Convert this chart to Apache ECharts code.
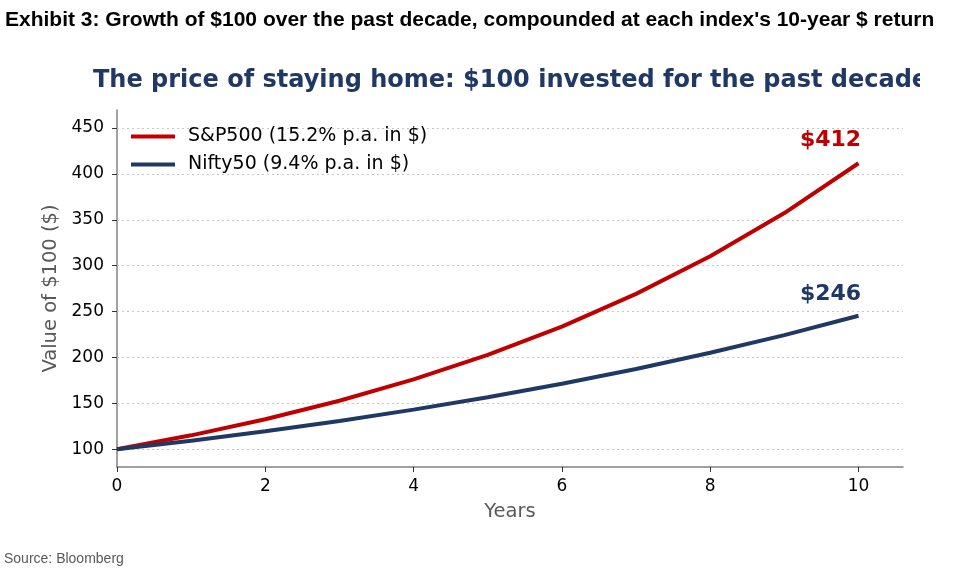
<!DOCTYPE html>
<html>
<head>
<meta charset="utf-8">
<script src="https://cdn.jsdelivr.net/npm/echarts@6/dist/echarts.min.js"></script>
<style>
  html, body { margin: 0; padding: 0; background: #fff; }
  #chart { width: 973px; height: 574px; }
</style>
</head>
<body>
<div id="chart"></div>
<script>
// years since start
const years = [0, 1, 2, 3, 4, 5, 6, 7, 8, 9, 10];
// value of $100
const sp500 = [100, 115.2, 132.7, 152.9, 176.1, 202.9, 233.7, 269.3, 310.2, 357.3, 411.6];
const nifty50 = [100, 109.4, 119.7, 130.9, 143.2, 156.7, 171.4, 187.5, 205.2, 224.4, 245.5];
const seriesNames = ["S&P500 (15.2% p.a. in $)", "Nifty50 (9.4% p.a. in $)"];
const endLabels = ["$412", "$246"];
const xTicks = [0, 2, 4, 6, 8, 10];
const yTicks = [100, 150, 200, 250, 300, 350, 400, 450];

const RED = "#c00000";
const NAVY = "#1f3864";
const FONT = "DejaVu Sans";

function pairs(vals) {
  return vals.map(function (v, i) { return [years[i], v]; });
}

function endLabel(text, color, dy) {
  return {
    show: true,
    formatter: text,
    color: color,
    fontFamily: FONT,
    fontWeight: "bold",
    fontSize: 22,
    align: "center",
    verticalAlign: "middle",
    distance: 0,
    offset: [-28, dy],
  };
}

const chart = echarts.init(document.getElementById("chart"));

chart.setOption({
  animation: false,
  title: [
    {
      text: "Exhibit 3: Growth of $100 over the past decade, compounded at each index's 10-year $ return",
      left: 5,
      top: 10,
      padding: 0,
      textStyle: {
        fontFamily: "Liberation Sans",
        fontWeight: "bold",
        fontSize: 21,
        color: "#000",
      },
    },
    {
      text: "The price of staying home: $100 invested for the past decade",
      left: 93,
      top: 69,
      padding: 0,
      textStyle: {
        fontFamily: FONT,
        fontWeight: "bold",
        fontSize: 24,
        color: NAVY,
      },
    },
    {
      text: "Source: Bloomberg",
      left: 4,
      top: 552,
      padding: 0,
      textStyle: {
        fontFamily: "Liberation Sans",
        fontWeight: "normal",
        fontSize: 14,
        color: "#595959",
      },
    },
  ],
  // the subtitle is clipped in the original
  graphic: [
    {
      type: "rect",
      left: 920,
      top: 60,
      shape: { width: 60, height: 40 },
      style: { fill: "#fff" },
      z: 100,
    },
  ],
  legend: {
    orient: "vertical",
    left: 131,
    top: 127,
    padding: 0,
    itemWidth: 44,
    itemHeight: 4,
    itemGap: 9,
    icon: "rect",
    textStyle: { fontFamily: FONT, fontSize: 19, color: "#000", padding: [0, 0, 0, 8] },
    data: seriesNames,
  },
  grid: {
    left: 117,
    right: 70,
    top: 110,
    bottom: 107,
  },
  xAxis: {
    type: "value",
    min: 0,
    max: 10.6,
    name: "Years",
    nameLocation: "middle",
    nameGap: 35,
    nameTextStyle: { fontFamily: FONT, fontSize: 19.5, color: "#595959" },
    axisLine: { lineStyle: { color: "#808080", width: 1.5 } },
    axisTick: { show: true, length: 5, customValues: xTicks, lineStyle: { color: "#333", width: 1 } },
    axisLabel: { customValues: xTicks, fontFamily: FONT, fontSize: 17, color: "#000", margin: 11 },
    splitLine: { show: false },
  },
  yAxis: {
    type: "value",
    min: 80.7,
    max: 469.6,
    name: "Value of $100 ($)",
    nameLocation: "middle",
    nameGap: 56,
    nameTextStyle: { fontFamily: FONT, fontSize: 19.5, color: "#595959" },
    axisLine: { show: true, lineStyle: { color: "#808080", width: 1.5 } },
    axisTick: { show: true, length: 5, customValues: yTicks, lineStyle: { color: "#333", width: 1 } },
    axisLabel: { customValues: yTicks, fontFamily: FONT, fontSize: 17, color: "#000", margin: 13 },
    splitLine: { show: false },
  },
  series: [
    {
      name: seriesNames[0],
      type: "line",
      data: pairs(sp500),
      showSymbol: false,
      symbol: "none",
      lineStyle: { color: RED, width: 4 },
      itemStyle: { color: RED },
      endLabel: endLabel(endLabels[0], RED, -23),
      z: 3,
      markLine: {
        silent: true,
        symbol: "none",
        label: { show: false },
        lineStyle: { color: "#c8c8c8", type: [2, 3], width: 1 },
        data: yTicks.map(function (v) { return { yAxis: v }; }),
        z: 1,
      },
    },
    {
      name: seriesNames[1],
      type: "line",
      data: pairs(nifty50),
      showSymbol: false,
      symbol: "none",
      lineStyle: { color: NAVY, width: 4 },
      itemStyle: { color: NAVY },
      endLabel: endLabel(endLabels[1], NAVY, -21),
      z: 4,
    },
  ],
});
</script>
</body>
</html>
